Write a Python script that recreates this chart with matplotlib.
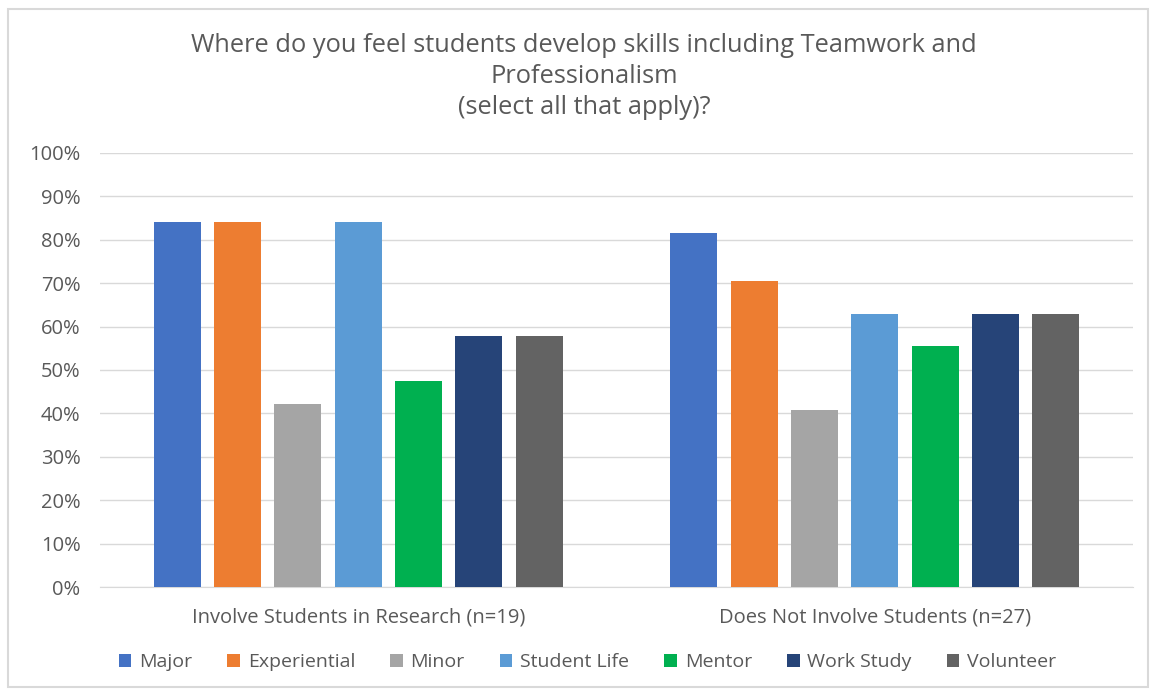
import numpy as np
import matplotlib.pyplot as plt
from matplotlib.patches import Rectangle

plt.rcParams['font.family'] = ['Open Sans', 'DejaVu Sans']

groups = ["Involve Students in Research (n=19)", "Does Not Involve Students (n=27)"]
series = ["Major", "Experiential", "Minor", "Student Life", "Mentor", "Work Study", "Volunteer"]
involve = [84.2, 84.2, 42.1, 84.2, 47.4, 57.9, 57.9]
not_involve = [81.5, 70.4, 40.7, 63.0, 55.6, 63.0, 63.0]
colors = ["#4472C4", "#ED7D31", "#A5A5A5", "#5B9BD5", "#00B050", "#264478", "#636363"]

text_color = "#595959"

fig = plt.figure(figsize=(11.52, 6.91), dpi=100)
ax = fig.add_axes([0.0868, 0.1505, 0.8967, 0.6281])

# light frame around the whole chart
fig.patches.append(Rectangle((8 / 1152, 4 / 691), 1140 / 1152, 678 / 691,
                             transform=fig.transFigure, fill=False,
                             edgecolor="#D9D9D9", linewidth=1.5))

x = np.arange(len(groups))
pitch = 0.1168
width = 0.091
for i, name in enumerate(series):
    vals = [involve[i], not_involve[i]]
    ax.bar(x + (i - 3) * pitch, vals, width, color=colors[i], label=name, zorder=3)

ax.set_xlim(-0.5, 1.5)
ax.set_ylim(0, 100)
ax.set_yticks(range(0, 101, 10))
ax.set_yticklabels([f"{v}%" for v in range(0, 101, 10)])
ax.set_xticks(x)
ax.set_xticklabels(groups)
ax.grid(axis="y", color="#D9D9D9", linewidth=1, zorder=0)
for side in ["top", "right", "left"]:
    ax.spines[side].set_visible(False)
ax.spines["bottom"].set_color("#D9D9D9")
ax.tick_params(axis="both", length=0, labelsize=14.5, colors=text_color)
ax.tick_params(axis="x", pad=15)
ax.tick_params(axis="y", pad=14)

fig.text(0.507, 0.8895, "Where do you feel students develop skills including Teamwork and\nProfessionalism\n(select all that apply)?",
         ha="center", va="center", fontsize=18.3, color=text_color, linespacing=1.32)

leg = fig.legend(loc="center", bbox_to_anchor=(0.51, 0.042), ncol=7, frameon=False,
                 fontsize=14, handlelength=0.65, handleheight=0.65, handletextpad=0.4,
                 columnspacing=1.8)
for t in leg.get_texts():
    t.set_color(text_color)

fig.savefig("out.png", dpi=100)
